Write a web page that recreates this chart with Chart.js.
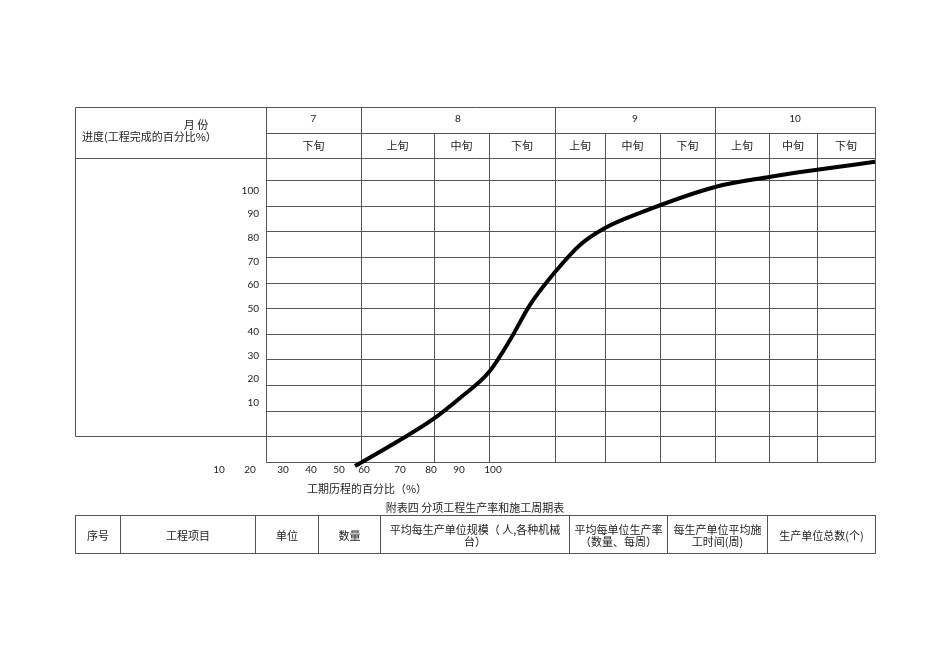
<!DOCTYPE html>
<html><head><meta charset="utf-8">
<script src="https://cdn.jsdelivr.net/npm/chart.js"></script>
<style>
body{margin:0;background:#fff;width:950px;height:672px;overflow:hidden;position:relative;font-family:"Noto Sans CJK SC",sans-serif}
#c{position:absolute;left:0;top:0}
table{position:absolute;left:75px;top:515px;width:801px;height:39px;border-collapse:collapse;font-size:11px;color:#222}
td{border:1px solid #555;text-align:center;line-height:12px;padding:0 2px}
#cap{position:absolute;top:499px;left:0;width:950px;text-align:center;font-size:11px;color:#222}
</style></head><body>
<canvas id="c" width="950" height="672"></canvas>
<div id="cap">附表四 分项工程生产率和施工周期表</div>
<table><tr>
<td style="width:40px">序号</td><td style="width:130px">工程项目</td><td style="width:58px">单位</td><td style="width:57px">数量</td>
<td style="width:184px">平均每生产单位规模（ 人,各种机械 台）</td><td style="width:93px">平均每单位生产率（数量、每周）</td>
<td style="width:95px">每生产单位平均施工时间(周)</td><td>生产单位总数(个)</td></tr></table>
<script>
const months=["7","8","9","10"];
const monthSpan=[1,3,3,3];
const periods=["下旬","上旬","中旬","下旬","上旬","中旬","下旬","上旬","中旬","下旬"];
const colEdges=[0,95,168,223,289,339,394,449,503,551,609];
const rowLines=[0,10,20,30,40,50,60,70,80,90,100,110];
const yTickLabels=["10","20","30","40","50","60","70","80","90","100"];
const yTickPos=[23,32.3,41.5,50.7,59.9,69.1,78.3,87.5,96.8,106];
const xTickLabels=["10","20","30","40","50","60","70","80","90","100"];
const xTickPos=[-47,-16,17,45,73,98,134,165,193,227];
const curveX=[89,134,166,194,223,244,264,289,314,339,374,449,503,551,609];
const curveY=[-1.6,8.6,16.4,25,35.1,47.6,61.3,74.1,84.7,91.3,97.2,107.3,111.2,114,117.1];
const YMAX=118.6;
const grid={id:'grid',beforeDatasetsDraw(ch){
 const c=ch.ctx,x=ch.scales.x,y=ch.scales.y;
 const L=75,T=107,M=133;
 const px=v=>x.getPixelForValue(v),py=v=>y.getPixelForValue(v);
 c.save();c.strokeStyle='#555';c.lineWidth=1;
 const ln=(a,b,d,e)=>{c.beginPath();c.moveTo(Math.round(a)+.5,Math.round(b)+.5);c.lineTo(Math.round(d)+.5,Math.round(e)+.5);c.stroke();};
 const R=px(609),B=py(0),Top=py(YMAX);
 ln(L,T,R,T);ln(L,T,L,py(10));ln(L,py(10),px(0),py(10));ln(L,Top,R,Top);
 ln(px(0),M,R,M);
 rowLines.forEach(v=>ln(px(0),py(v),R,py(v)));
 colEdges.forEach((e,i)=>{const mt=[0,1,4,7,10].includes(i)?T:M;ln(px(e),mt,px(e),B);});
 c.fillStyle='#222';c.textAlign='center';c.textBaseline='middle';
 c.font='10px Lato';let k=0;
 months.forEach((m,i)=>{c.fillText(m,(px(colEdges[k])+px(colEdges[k+monthSpan[i]]))/2,119);k+=monthSpan[i];});
 c.font='11px "Noto Sans CJK SC"';
 periods.forEach((p,i)=>c.fillText(p,(px(colEdges[i])+px(colEdges[i+1]))/2,146));
 c.fillText('月 份',196,125);c.textAlign='left';c.fillText('进度(工程完成的百分比%）',82,137);
 c.textAlign='center';c.fillText('工期历程的百分比（%）',367,489);
 c.font='10px Lato';c.textAlign='right';
 yTickLabels.forEach((t,i)=>c.fillText(t,259,py(yTickPos[i])));
 c.textAlign='center';
 xTickLabels.forEach((t,i)=>c.fillText(t,px(xTickPos[i]),470));
 c.restore();}};
new Chart(document.getElementById('c'),{type:'scatter',
 data:{datasets:[{data:curveX.map((v,i)=>({x:v,y:curveY[i]})),showLine:true,borderColor:'#000',borderWidth:4,pointRadius:0,cubicInterpolationMode:'monotone',clip:false}]},
 options:{responsive:false,animation:false,layout:{padding:{left:266,right:75,top:158,bottom:210}},
  plugins:{legend:{display:false},tooltip:{enabled:false}},
  scales:{x:{type:'linear',min:0,max:609,display:false},y:{type:'linear',min:0,max:YMAX,display:false}}},
 plugins:[grid]});
</script></body></html>
